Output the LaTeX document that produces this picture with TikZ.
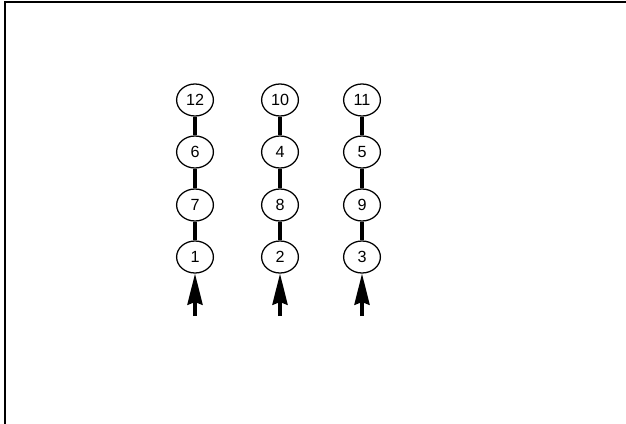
\documentclass[tikz,border=0pt]{standalone}
\usepackage{fontspec}
\setmainfont{Liberation Sans}
\usepackage{tikz}
\usetikzlibrary{arrows.meta,shapes.geometric,positioning}

\begin{document}
\begin{tikzpicture}[
  every node/.style={font=\fontsize{11.5}{13}\selectfont},
  bolt/.style={draw, ellipse, line width=0.9pt, minimum width=0.92cm, minimum height=0.8cm, inner sep=0pt},
  link/.style={line width=2.2pt},
  push/.style={line width=2.2pt, -{Stealth[length=0.78cm, width=0.38cm, inset=0.07cm]}},
  frame/.style={line width=1.6pt},
]
\useasboundingbox (0,0) rectangle (15.65,-10.6);
\draw[frame] (0.12,-10.6) -- (0.12,-0.05) -- (15.65,-0.05);
\node[bolt] (c12) at (4.875,-2.5) {12};
\node[bolt] (c6) at (4.875,-3.8) {6};
\node[bolt] (c7) at (4.875,-5.125) {7};
\node[bolt] (c1) at (4.875,-6.425) {1};
\node[bolt] (c10) at (7.0,-2.5) {10};
\node[bolt] (c4) at (7.0,-3.8) {4};
\node[bolt] (c8) at (7.0,-5.125) {8};
\node[bolt] (c2) at (7.0,-6.425) {2};
\node[bolt] (c11) at (9.05,-2.5) {11};
\node[bolt] (c5) at (9.05,-3.8) {5};
\node[bolt] (c9) at (9.05,-5.125) {9};
\node[bolt] (c3) at (9.05,-6.425) {3};
\draw[link] (c12) -- (c6);
\draw[link] (c6) -- (c7);
\draw[link] (c7) -- (c1);
\draw[link] (c10) -- (c4);
\draw[link] (c4) -- (c8);
\draw[link] (c8) -- (c2);
\draw[link] (c11) -- (c5);
\draw[link] (c5) -- (c9);
\draw[link] (c9) -- (c3);
\coordinate (p1) at (4.875,-7.9);
\coordinate (p2) at (7.0,-7.9);
\coordinate (p3) at (9.05,-7.9);
\draw[push] (p1) -- (c1);
\draw[push] (p2) -- (c2);
\draw[push] (p3) -- (c3);
\end{tikzpicture}
\end{document}
